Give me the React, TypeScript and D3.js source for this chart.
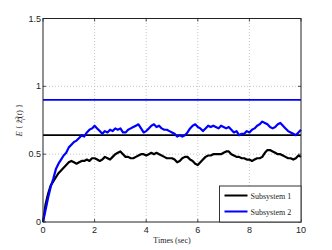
import React from 'react';
import * as d3 from 'd3';

// sample times 0..10 s, step 0.1
const times = d3.range(0, 101).map((i) => i / 10);

const subsystem1 = [
  0, 0.13, 0.21, 0.27, 0.3, 0.33, 0.36, 0.38, 0.4, 0.42,
  0.44, 0.45, 0.44, 0.43, 0.44, 0.45, 0.45, 0.46, 0.45, 0.47,
  0.47, 0.46, 0.45, 0.46, 0.48, 0.47, 0.46, 0.48, 0.5, 0.51,
  0.52, 0.5, 0.48, 0.48, 0.47, 0.47, 0.48, 0.49, 0.5, 0.5,
  0.49, 0.5, 0.51, 0.5, 0.51, 0.5, 0.49, 0.48, 0.47, 0.47,
  0.47, 0.46, 0.44, 0.45, 0.47, 0.48, 0.48, 0.46, 0.45, 0.43,
  0.42, 0.44, 0.46, 0.48, 0.49, 0.49, 0.5, 0.5, 0.5, 0.5,
  0.51, 0.52, 0.52, 0.5, 0.49, 0.48, 0.48, 0.47, 0.47, 0.46,
  0.46, 0.45, 0.46, 0.47, 0.47, 0.48, 0.51, 0.53, 0.53, 0.52,
  0.51, 0.5, 0.5, 0.49, 0.48, 0.47, 0.47, 0.46, 0.47, 0.49,
  0.48,
];

const subsystem2 = [
  0, 0.09, 0.18, 0.26, 0.32, 0.39, 0.43, 0.46, 0.49, 0.51,
  0.55, 0.57, 0.59, 0.6, 0.62, 0.64, 0.63, 0.66, 0.68, 0.69,
  0.71, 0.69, 0.67, 0.65, 0.67, 0.66, 0.68, 0.67, 0.69, 0.68,
  0.69, 0.66, 0.66, 0.68, 0.69, 0.7, 0.71, 0.72, 0.69, 0.66,
  0.67, 0.69, 0.71, 0.72, 0.7, 0.71, 0.69, 0.68, 0.68, 0.67,
  0.66, 0.65, 0.63, 0.64, 0.63, 0.64, 0.66, 0.69, 0.71, 0.72,
  0.7, 0.69, 0.67, 0.69, 0.71, 0.7, 0.71, 0.7, 0.69, 0.71,
  0.7, 0.69, 0.7, 0.68, 0.66, 0.67, 0.64, 0.65, 0.65, 0.67,
  0.66, 0.68, 0.69, 0.71, 0.72, 0.74, 0.73, 0.72, 0.7, 0.69,
  0.7, 0.72, 0.73, 0.71, 0.69, 0.67, 0.66, 0.65, 0.64, 0.66,
  0.68,
];

// steady-state bounds
const bound1 = 0.64;
const bound2 = 0.9;

const xTicks = [0, 2, 4, 6, 8, 10];
const yTicks = [0, 0.5, 1, 1.5];
const legendLabels = ['Subsystem 1', 'Subsystem 2'];
const colors = ['#000000', '#0000ff'];

export default function App() {
  const width = 332;
  const height = 250;
  const margin = { top: 18.5, right: 31, bottom: 28, left: 43 };

  const x = d3.scaleLinear().domain([0, 10]).range([margin.left, width - margin.right]);
  const y = d3.scaleLinear().domain([0, 1.5]).range([height - margin.bottom, margin.top]);

  const line = d3
    .line<number>()
    .x((d, i) => x(times[i]))
    .y((d) => y(d));

  const series = [subsystem1, subsystem2];
  const bounds = [bound1, bound2];

  const tickFont = "'Liberation Sans', Arial, sans-serif";
  const serif = "'Liberation Serif', 'Times New Roman', serif";

  const lx = 219.5;
  const ly = 186;

  return (
    <svg
      width={width}
      height={height}
      style={{ position: 'absolute', left: 0, top: 0, background: '#fff' }}
    >
      <rect x={0} y={0} width={width} height={height} fill="#fff" />
      {/* grid */}
      {xTicks.slice(1, -1).map((t) => (
        <line
          key={'gx' + t}
          x1={x(t)}
          x2={x(t)}
          y1={y(0)}
          y2={y(1.5)}
          stroke="#b8b8b8"
          strokeWidth={0.8}
          strokeDasharray="1,2"
        />
      ))}
      {yTicks.slice(1, -1).map((t) => (
        <line
          key={'gy' + t}
          x1={x(0)}
          x2={x(10)}
          y1={y(t)}
          y2={y(t)}
          stroke="#b8b8b8"
          strokeWidth={0.8}
          strokeDasharray="1,2"
        />
      ))}

      {/* bounds */}
      {bounds.map((b, i) => (
        <line
          key={'b' + i}
          x1={x(0)}
          x2={x(10)}
          y1={y(b)}
          y2={y(b)}
          stroke={colors[i]}
          strokeWidth={1.6}
        />
      ))}

      {/* curves */}
      {series.map((s, i) => (
        <path
          key={'s' + i}
          d={line(s) || ''}
          fill="none"
          stroke={colors[i]}
          strokeWidth={2.2}
          strokeLinejoin="round"
        />
      ))}

      {/* frame */}
      <rect
        x={x(0)}
        y={y(1.5)}
        width={x(10) - x(0)}
        height={y(0) - y(1.5)}
        fill="none"
        stroke="#222"
        strokeWidth={1}
      />

      {/* ticks */}
      {xTicks.map((t) => (
        <g key={'xt' + t}>
          <line x1={x(t)} x2={x(t)} y1={y(0)} y2={y(0) - 3} stroke="#222" strokeWidth={0.8} />
          <line x1={x(t)} x2={x(t)} y1={y(1.5)} y2={y(1.5) + 3} stroke="#222" strokeWidth={0.8} />
          <text
            x={x(t)}
            y={y(0) + 11}
            textAnchor="middle"
            fontFamily={tickFont}
            fontSize={9}
            fill="#222"
          >
            {t}
          </text>
        </g>
      ))}
      {yTicks.map((t) => (
        <g key={'yt' + t}>
          <line x1={x(0)} x2={x(0) + 3} y1={y(t)} y2={y(t)} stroke="#222" strokeWidth={0.8} />
          <line x1={x(10)} x2={x(10) - 3} y1={y(t)} y2={y(t)} stroke="#222" strokeWidth={0.8} />
          <text
            x={x(0) - 2}
            y={y(t) + 3}
            textAnchor="end"
            fontFamily={tickFont}
            fontSize={9}
            fill="#222"
          >
            {t}
          </text>
        </g>
      ))}

      {/* axis labels */}
      <text
        x={(x(0) + x(10)) / 2}
        y={243}
        textAnchor="middle"
        fontFamily={serif}
        fontSize={8}
        fill="#222"
      >
        Times (sec)
      </text>
      <text
        transform={`translate(22,${(y(0) + y(1.5)) / 2}) rotate(-90)`}
        textAnchor="middle"
        fontFamily={serif}
        fontSize={8.5}
        fill="#222"
      >
        <tspan fontStyle="italic">E</tspan>
        <tspan> {'{'} </tspan>
        <tspan fontStyle="italic">{'z\u0303'}</tspan>
        <tspan dy={-3.5} fontSize={6}>2</tspan>
        <tspan dx={-3.2} dy={6} fontSize={6} fontStyle="italic">i</tspan>
        <tspan dy={-2.5}>(</tspan>
        <tspan fontStyle="italic">t</tspan>
        <tspan>) {'}'}</tspan>
      </text>

      {/* legend */}
      <rect
        x={lx}
        y={ly}
        width={x(10) - lx}
        height={y(0) - ly}
        fill="#fff"
        stroke="#333"
        strokeWidth={1}
      />
      {legendLabels.map((lab, i) => (
        <g key={'lg' + i}>
          <line
            x1={lx + 5}
            x2={lx + 28}
            y1={ly + 9.5 + i * 16}
            y2={ly + 9.5 + i * 16}
            stroke={colors[i]}
            strokeWidth={2}
          />
          <text
            x={lx + 31}
            y={ly + 12.5 + i * 16}
            fontFamily={serif}
            fontSize={8}
            fill="#222"
          >
            {lab}
          </text>
        </g>
      ))}
    </svg>
  );
}
